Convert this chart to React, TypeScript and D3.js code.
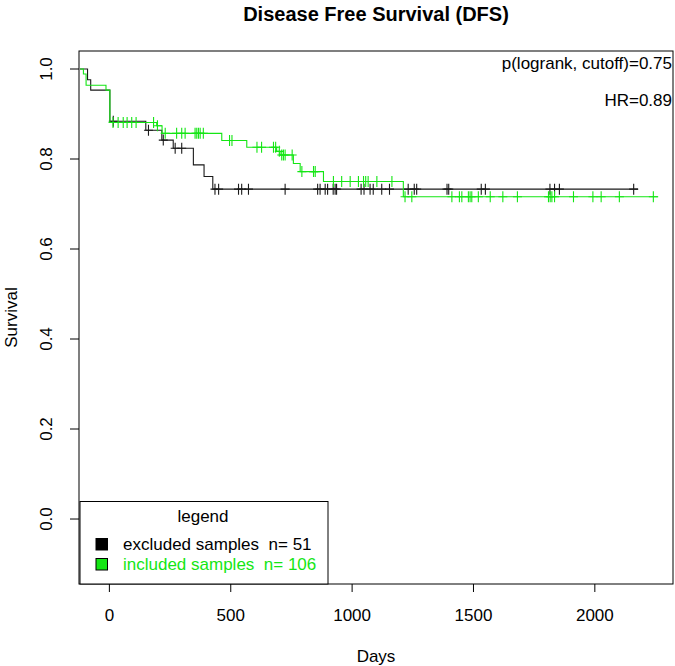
import * as d3 from 'd3';

// Kaplan-Meier steps: [day, survival]
const excludedSteps: [number, number][] = [
  [-121, 1], [-90, 0.976], [-77, 0.953], [2, 0.884], [150, 0.864], [216, 0.842],
  [263, 0.824], [346, 0.787], [390, 0.761], [426, 0.733],
];
const excludedEnd = 2178;
const excludedCensor = [
  16, 161, 222, 271, 298, 435, 450, 532, 545, 573, 724, 858, 868, 889, 899, 922, 930, 936,
  1037, 1049, 1074, 1087, 1122, 1154, 1231, 1256, 1266, 1391, 1398, 1532, 1549, 1815, 1834,
  1854, 2160,
];

const includedSteps: [number, number][] = [
  [-121, 1], [-107, 0.989], [-96, 0.964], [-14, 0.953], [2, 0.881], [195, 0.874],
  [217, 0.857], [463, 0.841], [566, 0.826], [689, 0.817], [703, 0.809], [758, 0.79],
  [786, 0.772], [882, 0.75], [1211, 0.716],
];
const includedEnd = 2261;
const includedCensor = [
  15, 36, 57, 73, 92, 110, 182, 198, 230, 277, 298, 312, 353, 360, 367, 374, 387, 495, 505,
  608, 627, 676, 685, 700, 710, 717, 724, 753, 793, 841, 848, 923, 957, 992, 1026, 1047,
  1056, 1066, 1102, 1164, 1218, 1246, 1411, 1442, 1452, 1479, 1486, 1493, 1520, 1569, 1621,
  1681, 1809, 1816, 1823, 1834, 1912, 1992, 2026, 2101, 2241,
];

const xTicks = [0, 500, 1000, 1500, 2000];
const yTicks = [0, 0.2, 0.4, 0.6, 0.8, 1.0];

const BLACK = '#1a1a1a';
const GREEN = '#14e614';
const FONT = '"Liberation Sans", Arial, Helvetica, sans-serif';

const left = 79, right = 673, top = 51, bottom = 584;

const x = d3.scaleLinear().domain([-125.2, 2322]).range([left, right]);
const y = d3.scaleLinear().domain([-0.1444, 1.04]).range([bottom, top]);

const line = d3.line<[number, number]>()
  .x((d) => x(d[0]))
  .y((d) => y(d[1]))
  .curve(d3.curveStepAfter);

function survAt(steps: [number, number][], t: number) {
  let s = steps[0][1];
  for (const st of steps) if (st[0] <= t) s = st[1];
  return s;
}

function Curve({ steps, end, censor, color }: { steps: [number, number][]; end: number; censor: number[]; color: string }) {
  const pts: [number, number][] = [...steps, [end, steps[steps.length - 1][1]]];
  return (
    <g>
      <path d={line(pts) || ''} fill="none" stroke={color} strokeWidth={1.1} />
      {censor.map((t, i) => {
        const cx = x(t), cy = y(survAt(steps, t));
        return (
          <path key={i} d={`M${cx - 4.5},${cy}H${cx + 4.5}M${cx},${cy - 5.5}V${cy + 5.5}`} stroke={color} strokeWidth={1.1} fill="none" />
        );
      })}
    </g>
  );
}

export default function App() {
  const pre = { whiteSpace: 'pre' as const };
  return (
    <svg width={675} height={666} style={{ position: 'absolute', left: 0, top: 0, background: '#fff' }} fontFamily={FONT}>
      <text x={376} y={21} textAnchor="middle" fontSize={20} fontWeight="bold">Disease Free Survival (DFS)</text>

      <Curve steps={excludedSteps} end={excludedEnd} censor={excludedCensor} color={BLACK} />
      <Curve steps={includedSteps} end={includedEnd} censor={includedCensor} color={GREEN} />

      <rect x={left} y={top} width={right - left} height={bottom - top} fill="none" stroke="#000" strokeWidth={1} />

      {xTicks.map((t) => (
        <g key={t}>
          <line x1={x(t)} x2={x(t)} y1={bottom} y2={bottom + 8} stroke="#000" />
          <text x={x(t)} y={621} textAnchor="middle" fontSize={17}>{t}</text>
        </g>
      ))}
      {yTicks.map((t) => (
        <g key={t}>
          <line x1={left - 9} x2={left} y1={y(t)} y2={y(t)} stroke="#000" />
          <text transform={`translate(52,${y(t)}) rotate(-90)`} textAnchor="middle" fontSize={17}>{t.toFixed(1)}</text>
        </g>
      ))}

      <text x={376} y={662} textAnchor="middle" fontSize={17}>Days</text>
      <text transform={`translate(17,${(top + bottom) / 2}) rotate(-90)`} textAnchor="middle" fontSize={17}>Survival</text>

      <text x={672} y={69} textAnchor="end" fontSize={17}>p(logrank, cutoff)=0.75</text>
      <text x={672} y={106} textAnchor="end" fontSize={17}>HR=0.89</text>

      <g>
        <rect x={left + 1} y={501.5} width={248} height={bottom - 501.5} fill="#fff" stroke="#000" strokeWidth={1} />
        <text x={203} y={522} textAnchor="middle" fontSize={17}>legend</text>
        <rect x={96} y={538.5} width={11.5} height={11.5} fill="#000" stroke="#000" />
        <text x={123} y={550} fontSize={17} fill="#000" style={pre}>excluded samples  n= 51</text>
        <rect x={96} y={558.5} width={11.5} height={11.5} fill={GREEN} stroke="#000" />
        <text x={123} y={570} fontSize={17} fill={GREEN} style={pre}>included samples  n= 106</text>
      </g>
    </svg>
  );
}
